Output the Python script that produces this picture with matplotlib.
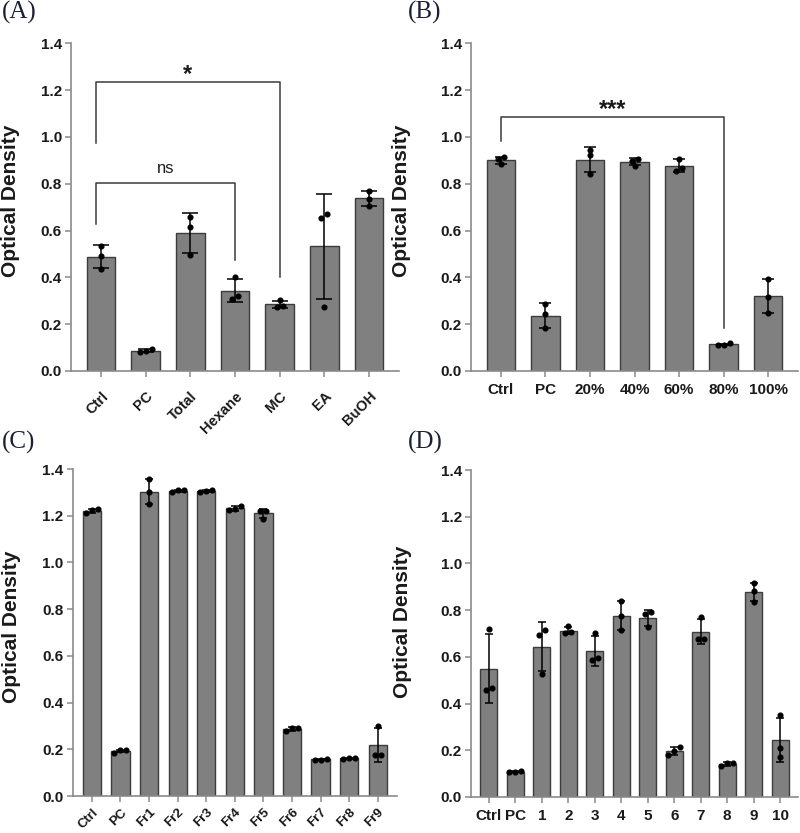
import matplotlib
matplotlib.use('Agg')
import matplotlib.pyplot as plt
import numpy as np

plt.rcParams['font.family'] = ['Liberation Sans', 'DejaVu Sans']

# replicate optical density readings (3 per group)
a_labels = ['Ctrl', 'PC', 'Total', 'Hexane', 'MC', 'EA', 'BuOH']
a_reps = [[0.535, 0.491, 0.437], [0.093, 0.087, 0.081], [0.659, 0.617, 0.496],
          [0.400, 0.320, 0.308], [0.303, 0.278, 0.275], [0.669, 0.655, 0.275],
          [0.771, 0.736, 0.704]]

b_labels = ['Ctrl', 'PC', '20%', '40%', '60%', '80%', '100%']
b_reps = [[0.914, 0.904, 0.883], [0.286, 0.243, 0.182], [0.944, 0.923, 0.842],
          [0.906, 0.897, 0.877], [0.907, 0.869, 0.853], [0.111, 0.118, 0.111],
          [0.392, 0.318, 0.246]]

c_labels = ['Ctrl', 'PC', 'Fr1', 'Fr2', 'Fr3', 'Fr4', 'Fr5', 'Fr6', 'Fr7', 'Fr8', 'Fr9']
c_reps = [[1.210, 1.225, 1.227], [0.186, 0.195, 0.197], [1.357, 1.300, 1.250],
          [1.300, 1.310, 1.308], [1.305, 1.310, 1.303], [1.242, 1.227, 1.224],
          [1.222, 1.220, 1.187], [0.290, 0.291, 0.277], [0.155, 0.160, 0.156],
          [0.160, 0.163, 0.162], [0.301, 0.176, 0.176]]

d_labels = ['Ctrl', 'PC', '1', '2', '3', '4', '5', '6', '7', '8', '9', '10']
d_reps = [[0.720, 0.460, 0.468], [0.108, 0.110, 0.107], [0.713, 0.694, 0.526],
          [0.730, 0.707, 0.701], [0.701, 0.593, 0.587], [0.840, 0.773, 0.716],
          [0.791, 0.783, 0.727], [0.212, 0.198, 0.181], [0.770, 0.677, 0.677],
          [0.133, 0.146, 0.145], [0.915, 0.881, 0.837], [0.349, 0.210, 0.170]]

BAR = '#808080'
EDGE = '#3c3c3c'
AXC = '#8a8a8a'
TXT = '#1a1a1a'
W, H = 800, 833


def swarm(vals, thr=0.02):
    # spread replicates sideways only when their dots would overlap
    order = np.argsort(vals)
    offs = np.zeros(len(vals))
    groups = [[order[0]]]
    for i in order[1:]:
        if vals[i] - vals[groups[-1][-1]] < thr:
            groups[-1].append(i)
        else:
            groups.append([i])
    for g in groups:
        n = len(g)
        for k, i in enumerate(g):
            offs[i] = k - (n - 1) / 2
    return offs


def panel(rect, labels, reps, rot, capsize, lab_x, lab_y, xsize, xpad):
    ax = fig.add_axes([rect[0] / W, 1 - rect[3] / H, (rect[2] - rect[0]) / W,
                       (rect[3] - rect[1]) / H])
    n = len(labels)
    x = np.arange(n)
    means = np.array([np.mean(r) for r in reps])
    sds = np.array([np.std(r, ddof=1) for r in reps])
    ax.set_xlim(-0.67, n - 1 + 0.67)
    ax.set_ylim(0, 1.4)
    ax.bar(x, means, width=0.64, color=BAR, edgecolor=EDGE, linewidth=1, zorder=2)
    ax.errorbar(x, means, yerr=sds, fmt='none', ecolor='black', elinewidth=1.1,
                capsize=capsize, capthick=1.1, zorder=3)
    px_per_unit = (rect[2] - rect[0]) / (n - 1 + 1.34)
    step = 6 / px_per_unit
    for i, r in enumerate(reps):
        offs = swarm(np.array(r))
        ax.plot(i + offs * step, r, 'o', color='black', markersize=3.4, zorder=4)
    for s in ['top', 'right']:
        ax.spines[s].set_visible(False)
    for s in ['left', 'bottom']:
        ax.spines[s].set_color(AXC)
        ax.spines[s].set_linewidth(1.2)
    yt = np.arange(0, 1.41, 0.2)
    ax.set_yticks(yt)
    ax.set_yticklabels(['%.1f' % v for v in yt], fontweight='bold', fontsize=11)
    ax.set_xticks(x)
    if rot:
        ax.set_xticklabels(labels, rotation=45, ha='right', va='top',
                           rotation_mode='anchor', fontweight='bold', fontsize=xsize)
    else:
        ax.set_xticklabels(labels, fontweight='bold', fontsize=xsize)
    ax.tick_params(axis='both', colors=AXC, length=4.5, width=1.1, labelcolor=TXT)
    ax.tick_params(axis='y', pad=2)
    ax.tick_params(axis='x', pad=xpad)
    ax.set_ylabel('Optical Density', fontsize=15, fontweight='bold', color=TXT)
    ax.yaxis.set_label_coords(lab_x, lab_y)
    return ax


def bracket(ax, x0, x1, y, y0, y1, text, size, weight, gap):
    ax.plot([x0, x0, x1, x1], [y0, y, y, y1], color='#3a3a3a', lw=1.1, zorder=5,
            clip_on=False)
    ax.text((x0 + x1) / 2, y + gap, text, ha='center', va='baseline',
            fontsize=size, fontweight=weight, color=TXT)


fig = plt.figure(figsize=(8, 8.33), dpi=100)

axA = panel((71, 43.3, 399, 371), a_labels, a_reps, True, 5.5, -0.155, 0.52, 10.5, 8.5)
bracket(axA, -0.12, 4, 1.233, 0.973, 0.400, '*', 17, 'bold', 0.004)
bracket(axA, -0.12, 3, 0.803, 0.628, 0.474, 'ns', 12, 'normal', 0.045)

axB = panel((471, 43.3, 798, 371), b_labels, b_reps, False, 4.5, -0.183, 0.52, 11, 4.5)
bracket(axB, 0, 5, 1.084, 0.983, 0.182, '***', 17, 'bold', 0.004)

axC = panel((72.7, 469, 397, 796), c_labels, c_reps, True, 3, -0.16, 0.517, 9.5, 3)
axD = panel((471, 470, 798, 797), d_labels, d_reps, False, 3, -0.181, 0.536, 11, 4.5)

for lab, px, py in [('(A)', 2, 19), ('(B)', 408, 19), ('(C)', 2, 449), ('(D)', 408, 449)]:
    fig.text(px / W, 1 - py / H, lab, family=['Liberation Serif', 'DejaVu Serif'],
             fontsize=18, color='#1c2033', ha='left', va='baseline')

fig.savefig('out.png', dpi=100)
